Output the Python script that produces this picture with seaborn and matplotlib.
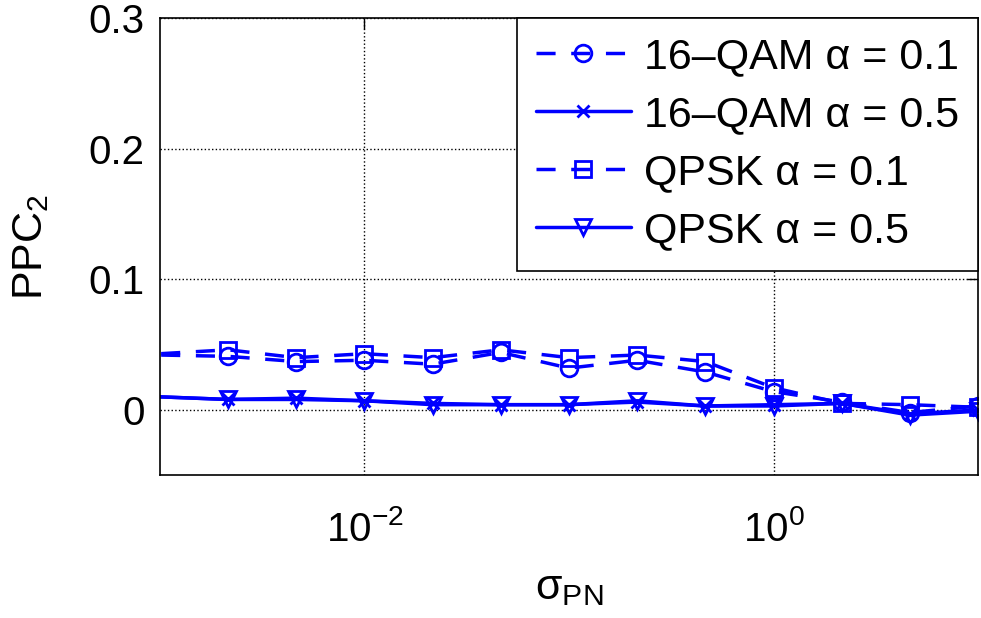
import numpy as np
import pandas as pd
import seaborn as sns
import matplotlib
matplotlib.use('Agg')
import matplotlib.pyplot as plt
from matplotlib.ticker import LogLocator, NullLocator, FixedLocator


# sigma_PN grid (first point sits just left of the axis limit)
sigma_pn = 10.0 ** (np.arange(-10, 4) / 3)

qam_01 = [0.043, 0.042, 0.041, 0.037, 0.038, 0.035, 0.044, 0.032, 0.038, 0.029, 0.014, 0.006, -0.002, 0.003]
qam_05 = [0.011, 0.010, 0.008, 0.009, 0.007, 0.005, 0.004, 0.004, 0.006, 0.003, 0.004, 0.005, -0.003, 0.000]
qpsk_01 = [0.043, 0.043, 0.046, 0.040, 0.043, 0.040, 0.046, 0.040, 0.042, 0.037, 0.017, 0.005, 0.004, 0.002]
qpsk_05 = [0.011, 0.010, 0.008, 0.008, 0.007, 0.004, 0.004, 0.004, 0.007, 0.003, 0.003, 0.005, -0.004, -0.001]

labels = ['16–QAM α = 0.1', '16–QAM α = 0.5', 'QPSK α = 0.1', 'QPSK α = 0.5']
series = [qam_01, qam_05, qpsk_01, qpsk_05]
markers = ['o', 'x', 's', 'v']
styles = ['--', '-', '--', '-']

sns.set_style('white')
plt.rcParams['font.family'] = ['Liberation Sans', 'DejaVu Sans']
plt.rcParams['mathtext.fontset'] = 'custom'
plt.rcParams['mathtext.rm'] = 'Liberation Sans'
plt.rcParams['mathtext.it'] = 'Liberation Sans'
plt.rcParams['mathtext.default'] = 'regular'
for k in ['text.color', 'axes.labelcolor', 'xtick.color', 'ytick.color']:
    plt.rcParams[k] = 'black'

fig = plt.figure(figsize=(9.81, 6.18), dpi=100)
ax = fig.add_axes([0.163, 0.231, 0.834, 0.740])

for y, lab, m, ls in zip(series, labels, markers, styles):
    sns.lineplot(x=sigma_pn, y=y, ax=ax, color='blue', label=lab, marker=m,
                 linestyle=ls, lw=2.5, markersize=12 if m != 'x' else 9,
                 mfc='none', mec='blue', mew=2, markevery=list(range(2, len(sigma_pn))))
    if ls == '--':
        ax.lines[-1].set_dashes((5.5, 4.5))

ax.set_xscale('log')
ax.set_xlim(1e-3, 1e1)
ax.set_ylim(-0.05, 0.3)
ax.xaxis.set_major_locator(LogLocator(base=100))
ax.xaxis.set_minor_locator(NullLocator())
ax.yaxis.set_major_locator(FixedLocator([0, 0.1, 0.2, 0.3]))
ax.set_yticklabels(['0', '0.1', '0.2', '0.3'])

ax.grid(True, which='major', color='black', linestyle=':', linewidth=1)
ax.tick_params(direction='in', top=True, right=True, length=8, width=1,
               labelsize=29)
ax.tick_params(axis='x', pad=25)
ax.tick_params(axis='y', pad=11)
for sp in ax.spines.values():
    sp.set_color('black')
    sp.set_linewidth(1.2)

ax.set_xlabel('σ$_{PN}$', fontsize=31, labelpad=14)
ax.set_ylabel('PPC$_2$', fontsize=31, labelpad=27)

leg = ax.legend(loc='upper right', fontsize=31, frameon=True, fancybox=False,
                framealpha=1, edgecolor='black', borderaxespad=0,
                handlelength=2.2, handletextpad=0.3, labelspacing=0.42,
                borderpad=0.45)
leg.get_frame().set_linewidth(1.2)

fig.savefig('out.png', dpi=100)
